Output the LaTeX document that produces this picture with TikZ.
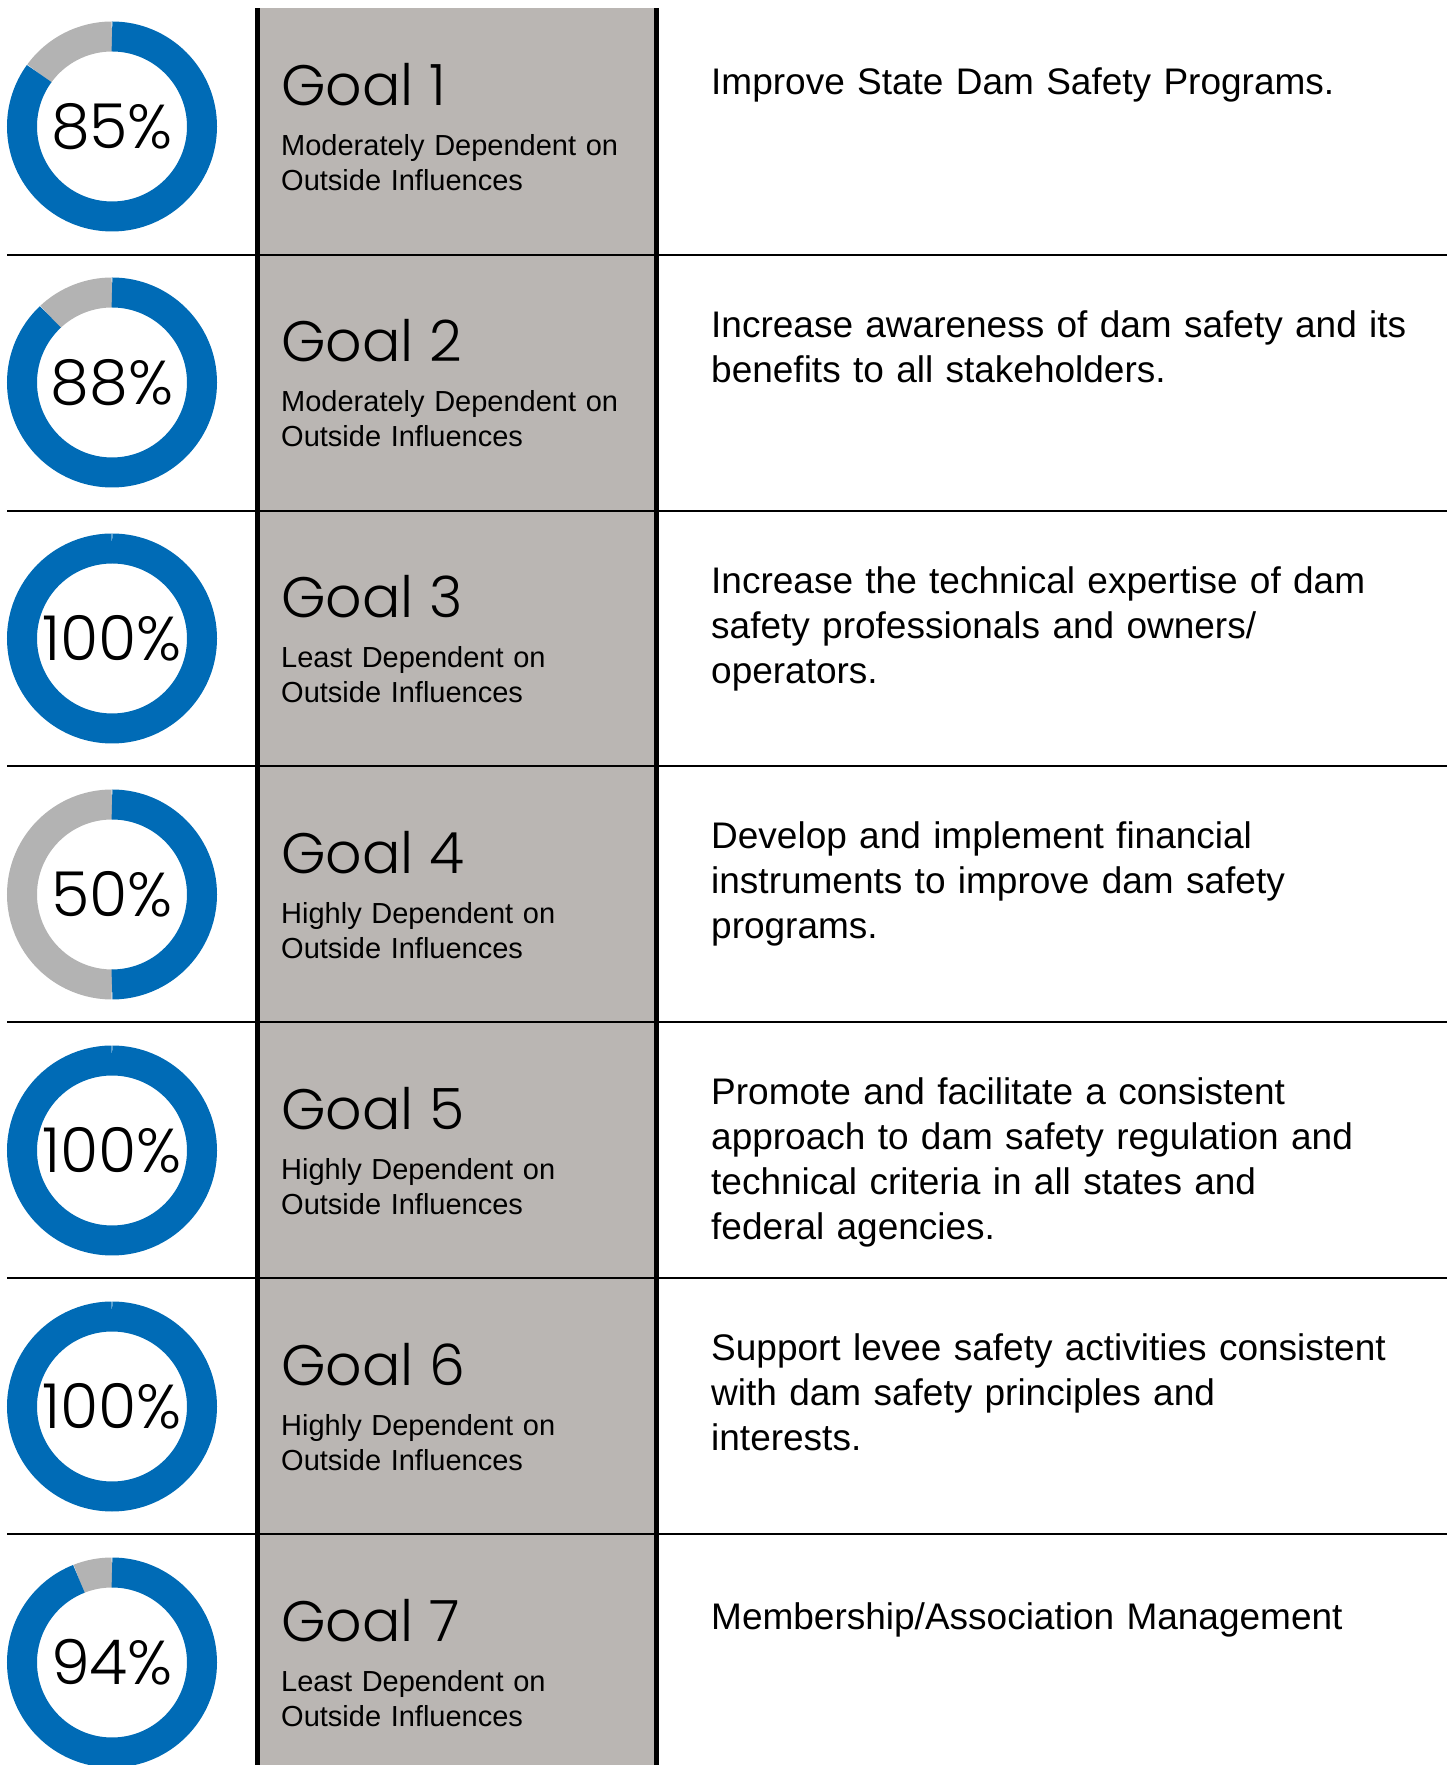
\documentclass[tikz,border=0pt]{standalone}
\usepackage{fontspec}
\setmainfont{Liberation Sans}
\newfontfamily\goalfont{Poppins Light}
\usetikzlibrary{positioning}

\definecolor{ringblue}{RGB}{0,107,182}
\definecolor{ringgray}{RGB}{179,179,179}
\definecolor{colgray}{RGB}{186,182,179}

\tikzstyle{goal} = [anchor=base west, inner sep=0pt, font=\goalfont\fontsize{57}{68}\selectfont]
\tikzstyle{sub} = [anchor=base west, inner sep=0pt, text width=370pt, align=left, font=\fontsize{29}{35}\selectfont]
\tikzstyle{desc} = [anchor=base west, inner sep=0pt, text width=740pt, align=left, font=\fontsize{37}{45}\selectfont]
\tikzstyle{pct} = [inner sep=0pt, font=\goalfont\fontsize{62}{66}\selectfont]
\tikzstyle{rule} = [draw, line width=2pt]
\tikzstyle{edge} = [draw, line width=5pt]

% ring with percentage: name, centre height, percent
\newcommand{\donut}[3]{%
  \coordinate (#1) at (112,#2);
  \ifnum#3<100
    \draw[ringgray, line width=30pt] ([yshift=90pt]#1) arc[start angle=90, delta angle={3.6*(100-#3)}, radius=90];
  \fi
  \draw[ringblue, line width=30pt] ([yshift=90pt]#1) arc[start angle=90, delta angle={-3.6*#3}, radius=90];
  \node[pct] (#1-pct) at (#1) {#3\%};
}

\begin{document}
\begin{tikzpicture}[x=1pt, y=1pt]
    \useasboundingbox (0,0) rectangle (1452,1765);

    % middle column
    \fill[colgray] (257,0) rectangle (656,1757);

    % row lines
    \draw [rule] (7,1510) -- (1447,1510);
    \draw [rule] (7,1254) -- (1447,1254);
    \draw [rule] (7,999) -- (1447,999);
    \draw [rule] (7,743) -- (1447,743);
    \draw [rule] (7,487) -- (1447,487);
    \draw [rule] (7,231) -- (1447,231);

    \draw [edge] (257,0) -- (257,1757);
    \draw [edge] (656,0) -- (656,1757);

    % rings
    \donut{ring1}{1638.5}{85}
    \donut{ring2}{1382.5}{88}
    \donut{ring3}{1126.5}{100}
    \donut{ring4}{870.5}{50}
    \donut{ring5}{614.5}{100}
    \donut{ring6}{358.5}{100}
    \donut{ring7}{102.5}{94}

    % goals
    \node[goal] (goal1) at (281,1659) {Goal 1};
    \node[sub] (dep1) at ([yshift=-50pt]goal1.base west) {Moderately Dependent on\\Outside Influences};
    \node[goal] (goal2) at (281,1403) {Goal 2};
    \node[sub] (dep2) at ([yshift=-50pt]goal2.base west) {Moderately Dependent on\\Outside Influences};
    \node[goal] (goal3) at (281,1147) {Goal 3};
    \node[sub] (dep3) at ([yshift=-50pt]goal3.base west) {Least Dependent on\\Outside Influences};
    \node[goal] (goal4) at (281,891) {Goal 4};
    \node[sub] (dep4) at ([yshift=-50pt]goal4.base west) {Highly Dependent on\\Outside Influences};
    \node[goal] (goal5) at (281,635) {Goal 5};
    \node[sub] (dep5) at ([yshift=-50pt]goal5.base west) {Highly Dependent on\\Outside Influences};
    \node[goal] (goal6) at (281,379) {Goal 6};
    \node[sub] (dep6) at ([yshift=-50pt]goal6.base west) {Highly Dependent on\\Outside Influences};
    \node[goal] (goal7) at (281,123) {Goal 7};
    \node[sub] (dep7) at ([yshift=-50pt]goal7.base west) {Least Dependent on\\Outside Influences};

    % descriptions
    \node[desc] (aim1) at (711,1670) {Improve State Dam Safety Programs.};
    \node[desc] (aim2) at (711,1427) {Increase awareness of dam safety and its\\benefits to all stakeholders.};
    \node[desc] (aim3) at (711,1171) {Increase the technical expertise of dam\\safety professionals and owners/\\operators.};
    \node[desc] (aim4) at (711,916) {Develop and implement financial\\instruments to improve dam safety\\programs.};
    \node[desc] (aim5) at (711,660) {Promote and facilitate a consistent\\approach to dam safety regulation and\\technical criteria in all states and\\federal agencies.};
    \node[desc] (aim6) at (711,404) {Support levee safety activities consistent\\with dam safety principles and\\interests.};
    \node[desc] (aim7) at (711,135) {Membership/Association Management};
\end{tikzpicture}
\end{document}
